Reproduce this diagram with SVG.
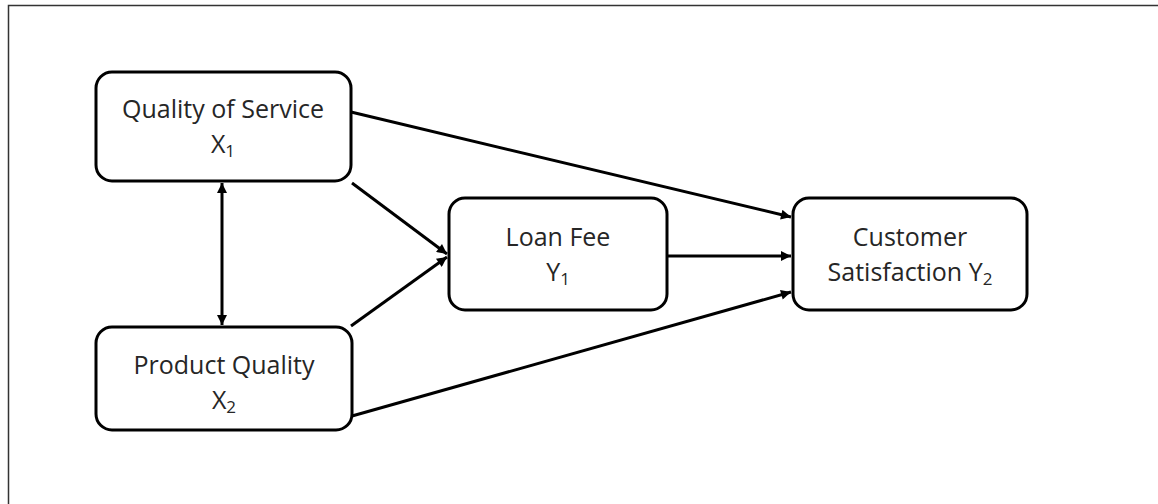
<svg xmlns="http://www.w3.org/2000/svg" width="1158" height="504" viewBox="0 0 1158 504">
<style>
.box{fill:#fff;stroke:#000;stroke-width:3}
.lbl{font-family:"Open Sans","Liberation Sans",sans-serif;font-size:25px;fill:#262626;text-anchor:middle}
.sub{font-size:17px}
.edge{stroke:#000;stroke-width:3;fill:none}
</style>
<defs>
<marker id="ah" viewBox="0 0 10 10" refX="10" refY="5" markerWidth="12" markerHeight="10" markerUnits="userSpaceOnUse" orient="auto-start-reverse">
<path d="M0,0 L10,5 L0,10 z" fill="#000"/>
</marker>
</defs>
<rect x="0" y="0" width="1158" height="504" fill="#fff"/>
<path d="M8.5,504 V5.5 H1158" fill="none" stroke="#333" stroke-width="1.5"/>
<g id="connectors">
<line class="edge" x1="222" y1="183" x2="222" y2="325" marker-start="url(#ah)" marker-end="url(#ah)"/>
<line class="edge" x1="352" y1="183" x2="447" y2="254" marker-end="url(#ah)"/>
<line class="edge" x1="351" y1="326" x2="447" y2="257" marker-end="url(#ah)"/>
<line class="edge" x1="351" y1="112" x2="791" y2="217" marker-end="url(#ah)"/>
<line class="edge" x1="667" y1="256" x2="791" y2="256" marker-end="url(#ah)"/>
<line class="edge" x1="352" y1="416" x2="791" y2="292" marker-end="url(#ah)"/>
</g>
<g id="node-qos">
<rect class="box" x="96" y="72" width="255" height="109" rx="16"/>
<text class="lbl" x="223" y="118">Quality of Service</text>
<text class="lbl" x="223" y="153">X<tspan class="sub" dy="4">1</tspan></text>
</g>
<g id="node-pq">
<rect class="box" x="96" y="327" width="256" height="103" rx="16"/>
<text class="lbl" x="224" y="374">Product Quality</text>
<text class="lbl" x="224" y="409">X<tspan class="sub" dy="4">2</tspan></text>
</g>
<g id="node-loan">
<rect class="box" x="449" y="198" width="218" height="112" rx="16"/>
<text class="lbl" x="558" y="246">Loan Fee</text>
<text class="lbl" x="558" y="281">Y<tspan class="sub" dy="4">1</tspan></text>
</g>
<g id="node-cs">
<rect class="box" x="793" y="198" width="234" height="112" rx="16"/>
<text class="lbl" x="910" y="246">Customer</text>
<text class="lbl" x="910" y="281">Satisfaction Y<tspan class="sub" dy="4">2</tspan></text>
</g>
</svg>
